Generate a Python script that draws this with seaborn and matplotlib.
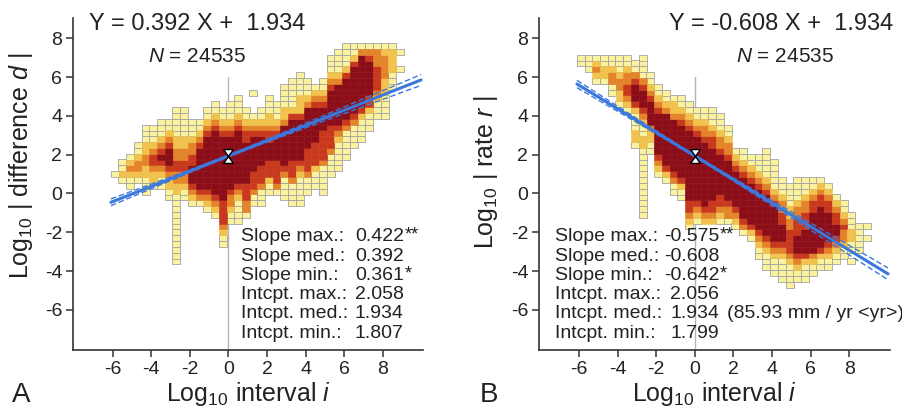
import numpy as np
import pandas as pd
import matplotlib
matplotlib.use("Agg")
import matplotlib.pyplot as plt
import seaborn as sns

# 2D histogram: one entry per 0.4-wide interval column.
# Each column = centre of its lowest 0.3-high bin + the count level of every bin going up.
# Levels: 1 pale yellow, 2 gold, 3 orange, 4 red, 5 dark red, '.' empty.
BIN_X = [round(-5.9 + 0.4 * i, 1) for i in range(38)]
BIN_W = 0.4
BIN_H = 0.3

A_BOTTOM = [1.0, 0.7, 0.4, 0.7, 0.1, 0.4, 0.4, -0.2, -3.5, -0.2,
            -0.5, -0.5, -0.8, -1.1, -2.6, -1.4, -1.4, -1.1, -0.5, -0.5,
            0.1, 0.1, -0.2, -0.5, -0.5, 0.1, 0.4, 0.1, 1.0, 1.3,
            1.9, 2.5, 2.8, 3.4, 4.0, 4.0, 5.5, 6.4]
A_LEVELS = ["1", "1211", "112321", "1233211", "111223322111",
            "12234432111", "112345432111", "11223455543211",
            "111111111111223344332211111", "1123344332211111",
            "123455544332111", "134555555543211", "123455555555543211",
            "12345555555555543211", "112344445555555555543211",
            "112334555555555432111", "1111234555555555432111",
            "1334445555555443211", "1134445555554321...1",
            "11134445555543211", "11244455544322111", "1344445555432111",
            "11113455555553221111", "1111344455555554211111",
            "11111234555555542221111", "11134444555555532111",
            "111244445555554321", "11111344444555543211",
            "111134444555555432111", "111112345555555321111",
            "11111345555555421111", "111134555555554211",
            "11112455555555531", "111244555555431", "1112344443331",
            "1111222333321", "11122221", "1..1"]

B_BOTTOM = [6.7, 6.4, 5.8, 5.8, 5.2, 4.6, 4.3, 2.5, -1.1, 2.2,
            1.0, 0.7, 0.1, -0.2, -1.7, -1.4, -1.4, -1.4, -1.4, -1.4,
            -1.7, -2.0, -2.3, -3.2, -3.8, -4.1, -4.4, -4.7, -4.4, -4.4,
            -4.1, -3.8, -3.8, -3.5, -3.2, -3.5, -2.9, -2.3]
B_LEVELS = ["11", "111", "12321", "12211", "1133211", "122332111",
            "1234433211", "122111245554311",
            "1111111111112211234555431111", "11223555543211",
            "1234555555543211", "1245555555553211", "11345555555553221",
            "112455555555543211", "1234455555555555543211",
            "12345555555555543211", "23455555555555433211",
            "23445555555554432111", "1234455555554332111",
            "1334555555543321 1".replace(" ", ""), "12345555554321",
            "134555555543211", "124555555543211",
            "112345555555432111", "111234555555543211111",
            "11123455555543211111", "111123455544332111",
            "111123444433221111", "112345554443321111",
            "111245555444332111", "11235555555443211",
            "1124555555544321", "112345555544321", "112345544321",
            "1123343211", "1.1122111", "11111", "1.1"]

A_SLOPE = [0.422, 0.392, 0.361]      # max, med, min
A_INTCPT = [2.058, 1.934, 1.807]
B_SLOPE = [-0.575, -0.608, -0.642]
B_INTCPT = [2.056, 1.934, 1.799]
N_OBS = 24535
STAT_LABELS = ["Slope max.:", "Slope med.:", "Slope min.:",
               "Intcpt. max.:", "Intcpt. med.:", "Intcpt. min.:"]
STAT_STARS = ["**", "", "*", "", "", ""]
B_NOTE = "(85.93 mm / yr <yr>)"

LEVEL_COLORS = {"1": "#faf29c", "2": "#f1c24e", "3": "#e3842b",
                "4": "#c8381d", "5": "#8b0d18"}
LINE_BLUE = "#3b78dc"
TEXT = "#222222"

sns.set_theme(style="white")
plt.rcParams.update({
    "font.family": ["Liberation Sans", "DejaVu Sans"],
    "mathtext.fontset": "custom",
    "mathtext.rm": "Liberation Sans",
    "mathtext.it": "Liberation Sans:italic",
    "axes.unicode_minus": False,
    "text.color": TEXT,
    "axes.labelcolor": TEXT,
    "xtick.color": "#333333",
    "ytick.color": "#333333",
    "xtick.labelcolor": TEXT,
    "ytick.labelcolor": TEXT,
})


def make_cells(bottoms, levels):
    rows = []
    for x, y0, col in zip(BIN_X, bottoms, levels):
        for k, lev in enumerate(col):
            if lev != ".":
                rows.append((x, round(y0 + BIN_H * k, 2), lev))
    return pd.DataFrame(rows, columns=["x", "y", "level"])


def draw_cells(fig, ax, df):
    # rectangular marker sized to one histogram bin
    p0 = ax.transData.transform((0, 0))
    p1 = ax.transData.transform((BIN_W, BIN_H))
    w_px, h_px = p1[0] - p0[0], p1[1] - p0[1]
    r = h_px / w_px
    verts = [(-1, -r), (1, -r), (1, r), (-1, r), (-1, -r)]
    size = (w_px * 72 / fig.dpi) ** 2

    pale = df[df.level == "1"]
    sns.scatterplot(data=pale, x="x", y="y", marker=verts, s=size,
                    color=LEVEL_COLORS["1"], edgecolor="#a3a3a3",
                    linewidth=0.6, legend=False, ax=ax, zorder=2)
    rest = df[df.level != "1"]
    sns.scatterplot(data=rest, x="x", y="y", hue="level", palette=LEVEL_COLORS,
                    marker=verts, s=size, edgecolor="face", linewidth=0.4,
                    legend=False, ax=ax, zorder=3)


def draw_panel(fig, ax, df, slopes, intcpts, ylabel, eq_x, n_x,
               lab_x, val_x, label_coords):
    ax.set_xlim(-8.05, 10.1)
    ax.set_ylim(-8.07, 9.03)

    # reference line at interval 0
    ax.plot([0, 0], [-8.07, 6.0], color="#b5b5b5", lw=1.0, zorder=1)

    draw_cells(fig, ax, df)

    # fitted line with a narrow band from the slope range
    xs = np.linspace(-6.1, 10.0, 60)
    fit = slopes[1] * xs + intcpts[1]
    half = 0.45 * (slopes[0] - slopes[2])
    band = np.sqrt(0.05 ** 2 + (half * xs) ** 2)
    for sign in (1, -1):
        ax.plot(xs, fit + sign * band, color=LINE_BLUE, lw=1.0,
                ls=(0, (4, 2)), zorder=4)
    ax.plot(xs, fit, color=LINE_BLUE, lw=2.2, zorder=5)
    hourglass = [(-0.7, 1), (0.7, 1), (-0.7, -1), (0.7, -1), (-0.7, 1)]
    ax.plot([0], [intcpts[1]], marker=hourglass, ms=10, mfc="white",
            mec="black", mew=1.0, zorder=6)

    ax.text(eq_x, 8.74, f"Y = {slopes[1]:.3f} X +  {intcpts[1]:.3f}",
            fontsize=17, va="center", ha="left")
    ax.text(n_x, 7.04, f"$N$ = {N_OBS}", fontsize=15, va="center", ha="left")

    values = [f"{v:.3f}" for v in slopes + intcpts]
    for i, (lab, val, star) in enumerate(zip(STAT_LABELS, values, STAT_STARS)):
        y = -2.23 - 0.995 * i
        ax.text(lab_x, y, lab, fontsize=14, va="center", ha="left", zorder=7)
        t = ax.text(val_x, y, val, fontsize=14, va="center", ha="right",
                    zorder=7)
        if star:
            ax.annotate(star, xy=(1, 1), xycoords=t, xytext=(0.5, 1),
                        textcoords="offset points", fontsize=13,
                        ha="left", va="top")

    sns.despine(ax=ax)
    for s in ["left", "bottom"]:
        ax.spines[s].set_color("#333333")
        ax.spines[s].set_linewidth(1.2)
    ticks = [-6, -4, -2, 0, 2, 4, 6, 8]
    ax.set_xticks(ticks)
    ax.set_yticks(ticks)
    ax.tick_params(direction="out", length=5, width=1.1, labelsize=14, pad=3,
                   left=True, bottom=True)
    ax.grid(False)

    ax.set_xlabel("Log$_{10}$ interval $i$", fontsize=18)
    ax.set_ylabel(ylabel, fontsize=18)
    ax.xaxis.set_label_coords(0.5, -0.09)
    ax.yaxis.set_label_coords(*label_coords)


fig = plt.figure(figsize=(9.03, 4.11), dpi=100)
ax_a = fig.add_axes([0.0812, 0.1484, 0.3873, 0.8071])
ax_b = fig.add_axes([0.5972, 0.1484, 0.3884, 0.8071])

cells_a = make_cells(A_BOTTOM, A_LEVELS)
cells_b = make_cells(B_BOTTOM, B_LEVELS)

draw_panel(fig, ax_a, cells_a, A_SLOPE, A_INTCPT,
           "Log$_{10}$ | difference $d$ |", -7.25, -4.15, 0.64, 9.1,
           (-0.11, 0.555))
draw_panel(fig, ax_b, cells_b, B_SLOPE, B_INTCPT,
           "Log$_{10}$ | rate $r$ |", -1.33, 2.13, -7.22, 1.26,
           (-0.112, 0.537))
ax_b.text(1.67, -6.21, B_NOTE, fontsize=14, va="center", ha="left")

fig.text(12 / 903, 3 / 411, "A", fontsize=20, va="bottom", ha="left")
fig.text(480 / 903, 3 / 411, "B", fontsize=20, va="bottom", ha="left")

fig.savefig("out.png", dpi=100)
